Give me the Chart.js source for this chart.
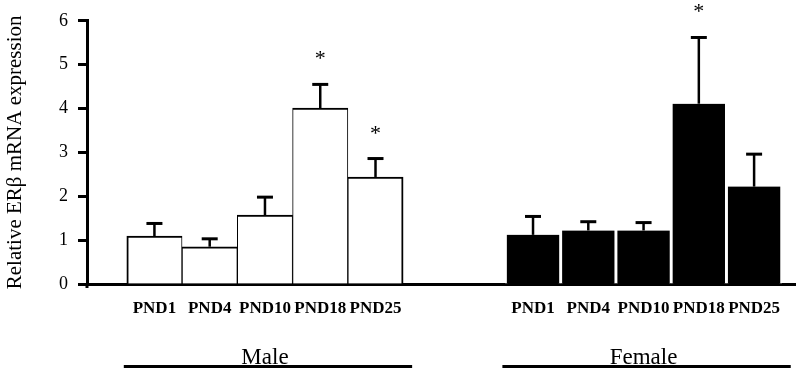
<!DOCTYPE html>
<html>
<head>
<meta charset="utf-8">
<script src="https://cdn.jsdelivr.net/npm/chart.js@4.4.1/dist/chart.umd.min.js"></script>
<style>
  html, body { margin: 0; padding: 0; background: #fff; }
</style>
</head>
<body>
<canvas id="chart" width="800" height="374"></canvas>
<script>
// data
const categories = ['PND1', 'PND4', 'PND10', 'PND18', 'PND25'];
const groups = ['Male', 'Female'];
const maleMeans = [1.09, 0.85, 1.57, 4.01, 2.44];
const maleErr = [0.29, 0.18, 0.41, 0.54, 0.42];
const femaleMeans = [1.12, 1.22, 1.22, 4.11, 2.22];
const femaleErr = [0.42, 0.20, 0.18, 1.51, 0.74];
const maleSig = [false, false, false, true, true];
const femaleSig = [false, false, false, true, false];

const serif = "'Liberation Serif', 'Times New Roman', serif";
const femaleStart = 6.85; // slot where the female group begins

const means = maleMeans.concat(femaleMeans);
const errs = maleErr.concat(femaleErr);
const sig = maleSig.concat(femaleSig);
const xLabels = categories.concat(categories);
const xPos = categories.map((c, i) => i).concat(categories.map((c, i) => i + femaleStart));
const points = means.map((v, i) => ({ x: xPos[i], y: v }));

// error bars, stars, group labels
const extras = {
  id: 'extras',
  afterDatasetsDraw(chart) {
    const ctx = chart.ctx;
    const yScale = chart.scales.y;
    const area = chart.chartArea;
    const bars = chart.getDatasetMeta(0).data;
    ctx.save();
    ctx.strokeStyle = '#000';
    ctx.fillStyle = '#000';

    bars.forEach((bar, i) => {
      const top = yScale.getPixelForValue(means[i] + errs[i]);
      ctx.lineWidth = 2.5;
      ctx.beginPath();
      ctx.moveTo(bar.x, bar.y);
      ctx.lineTo(bar.x, top);
      ctx.stroke();
      ctx.lineWidth = 3;
      ctx.beginPath();
      ctx.moveTo(bar.x - 8, top);
      ctx.lineTo(bar.x + 8, top);
      ctx.stroke();
      if (sig[i]) {
        ctx.font = '22px ' + serif;
        ctx.textAlign = 'center';
        ctx.textBaseline = 'alphabetic';
        ctx.fillText('*', bar.x, top - 19);
      }
    });

    // y axis runs a little past zero
    ctx.lineWidth = 3;
    ctx.beginPath();
    ctx.moveTo(area.left, area.bottom);
    ctx.lineTo(area.left, area.bottom + 4);
    ctx.stroke();

    groups.forEach((g, k) => {
      const first = bars[k * 5];
      const last = bars[k * 5 + 4];
      const left = first.x - first.width / 2;
      const right = last.x + last.width / 2;
      ctx.lineWidth = 3;
      ctx.beginPath();
      ctx.moveTo(left - 3, 366.5);
      ctx.lineTo(right + 9, 366.5);
      ctx.stroke();
      ctx.font = '23px ' + serif;
      ctx.textAlign = 'center';
      ctx.textBaseline = 'alphabetic';
      ctx.fillText(g, (left + right) / 2, 364);
    });
    ctx.restore();
  }
};

new Chart(document.getElementById('chart'), {
  type: 'bar',
  data: {
    datasets: [{
      data: points,
      backgroundColor: ctx => ctx.dataIndex < 5 ? '#fff' : '#000',
      borderColor: ctx => ctx.dataIndex < 5 ? '#000' : '#fff',
      borderWidth: ctx => {
        const i = ctx.dataIndex;
        if (i < 5) return { top: 2, bottom: 0, left: i === 0 ? 2 : 1, right: i === 4 ? 2 : 1 };
        return { top: 0, bottom: 0, left: 1.8, right: 1.8 };
      },
      borderSkipped: false,
      barPercentage: 1,
      categoryPercentage: 1
    }]
  },
  options: {
    responsive: false,
    animation: false,
    layout: { padding: { top: 15, right: 5, bottom: 0, left: 0 } },
    plugins: {
      legend: { display: false },
      tooltip: { enabled: false }
    },
    scales: {
      x: {
        type: 'linear',
        offset: false,
        min: -1.22,
        max: 11.59,
        afterBuildTicks: s => { s.ticks = xPos.map(v => ({ value: v })); },
        afterFit: s => { s.height = 90; },
        ticks: {
          callback: (v, i) => xLabels[i],
          autoSkip: false,
          maxRotation: 0,
          padding: 6,
          color: '#000',
          font: { family: serif, size: 17, weight: 'bold' }
        },
        grid: { display: false },
        border: { display: true, color: '#000', width: 3 }
      },
      y: {
        min: 0,
        max: 6,
        afterFit: s => { s.width = 87; },
        ticks: {
          stepSize: 1,
          padding: 10,
          color: '#000',
          font: { family: serif, size: 18 }
        },
        grid: {
          drawOnChartArea: false,
          drawTicks: true,
          tickLength: 9,
          tickWidth: 3,
          tickColor: '#000'
        },
        border: { display: true, color: '#000', width: 3 },
        title: {
          display: true,
          text: 'Relative ERβ mRNA expression',
          color: '#000',
          padding: { top: 3, bottom: 0 },
          font: { family: serif, size: 21 }
        }
      }
    }
  },
  plugins: [extras]
});
</script>
</body>
</html>
